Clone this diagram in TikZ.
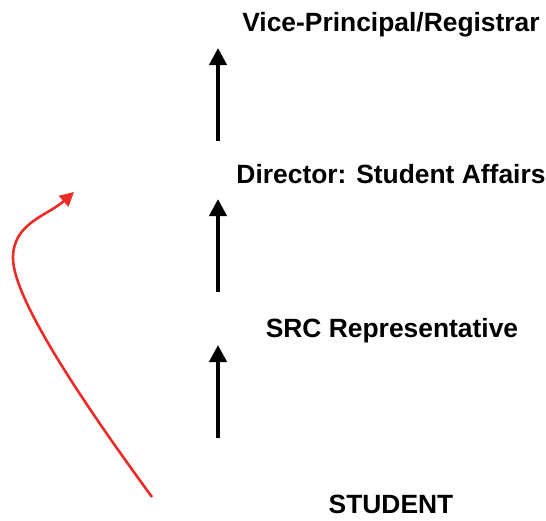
\documentclass[tikz,border=0pt]{standalone}
\usepackage{fontspec}
\setmainfont{Liberation Sans}
\usetikzlibrary{arrows.meta}
\definecolor{redline}{RGB}{236,44,38}
\tikzset{
  label/.style={font=\fontsize{26.4}{30}\selectfont\bfseries, inner sep=0pt, anchor=base},
  uparrow/.style={line width=4pt, -{Triangle[length=17pt,width=17pt]}},
  redarrow/.style={draw=redline, line width=2.6pt, -{Triangle[length=14pt,width=14pt]}, fill=none}
}
\begin{document}
\begin{tikzpicture}[x=1pt,y=-1pt]
\useasboundingbox (0,0) rectangle (546,520);
\node[label] (vp) at (391,31) {Vice-Principal/Registrar};
\node[label] (dir) at (391,183) {Director: Student Affairs};
\node[label] (src) at (392,337) {SRC Representative};
\node[label] (stu) at (391,513) {STUDENT};
\coordinate (a1s) at (218,141); \coordinate (a1e) at (218,48);
\coordinate (a2s) at (218,292); \coordinate (a2e) at (218,199);
\coordinate (a3s) at (218,438); \coordinate (a3e) at (218,345);
\draw[uparrow] (a1s) -- (a1e);
\draw[uparrow] (a2s) -- (a2e);
\draw[uparrow] (a3s) -- (a3e);
\coordinate (rs) at (152,497);
\coordinate (rm) at (13,258);
\coordinate (re) at (74,192);
\draw[redarrow] (rs) .. controls (81,400) and (13,298) .. (rm)
  .. controls (13,223) and (47,216) .. (re);
\end{tikzpicture}
\end{document}
